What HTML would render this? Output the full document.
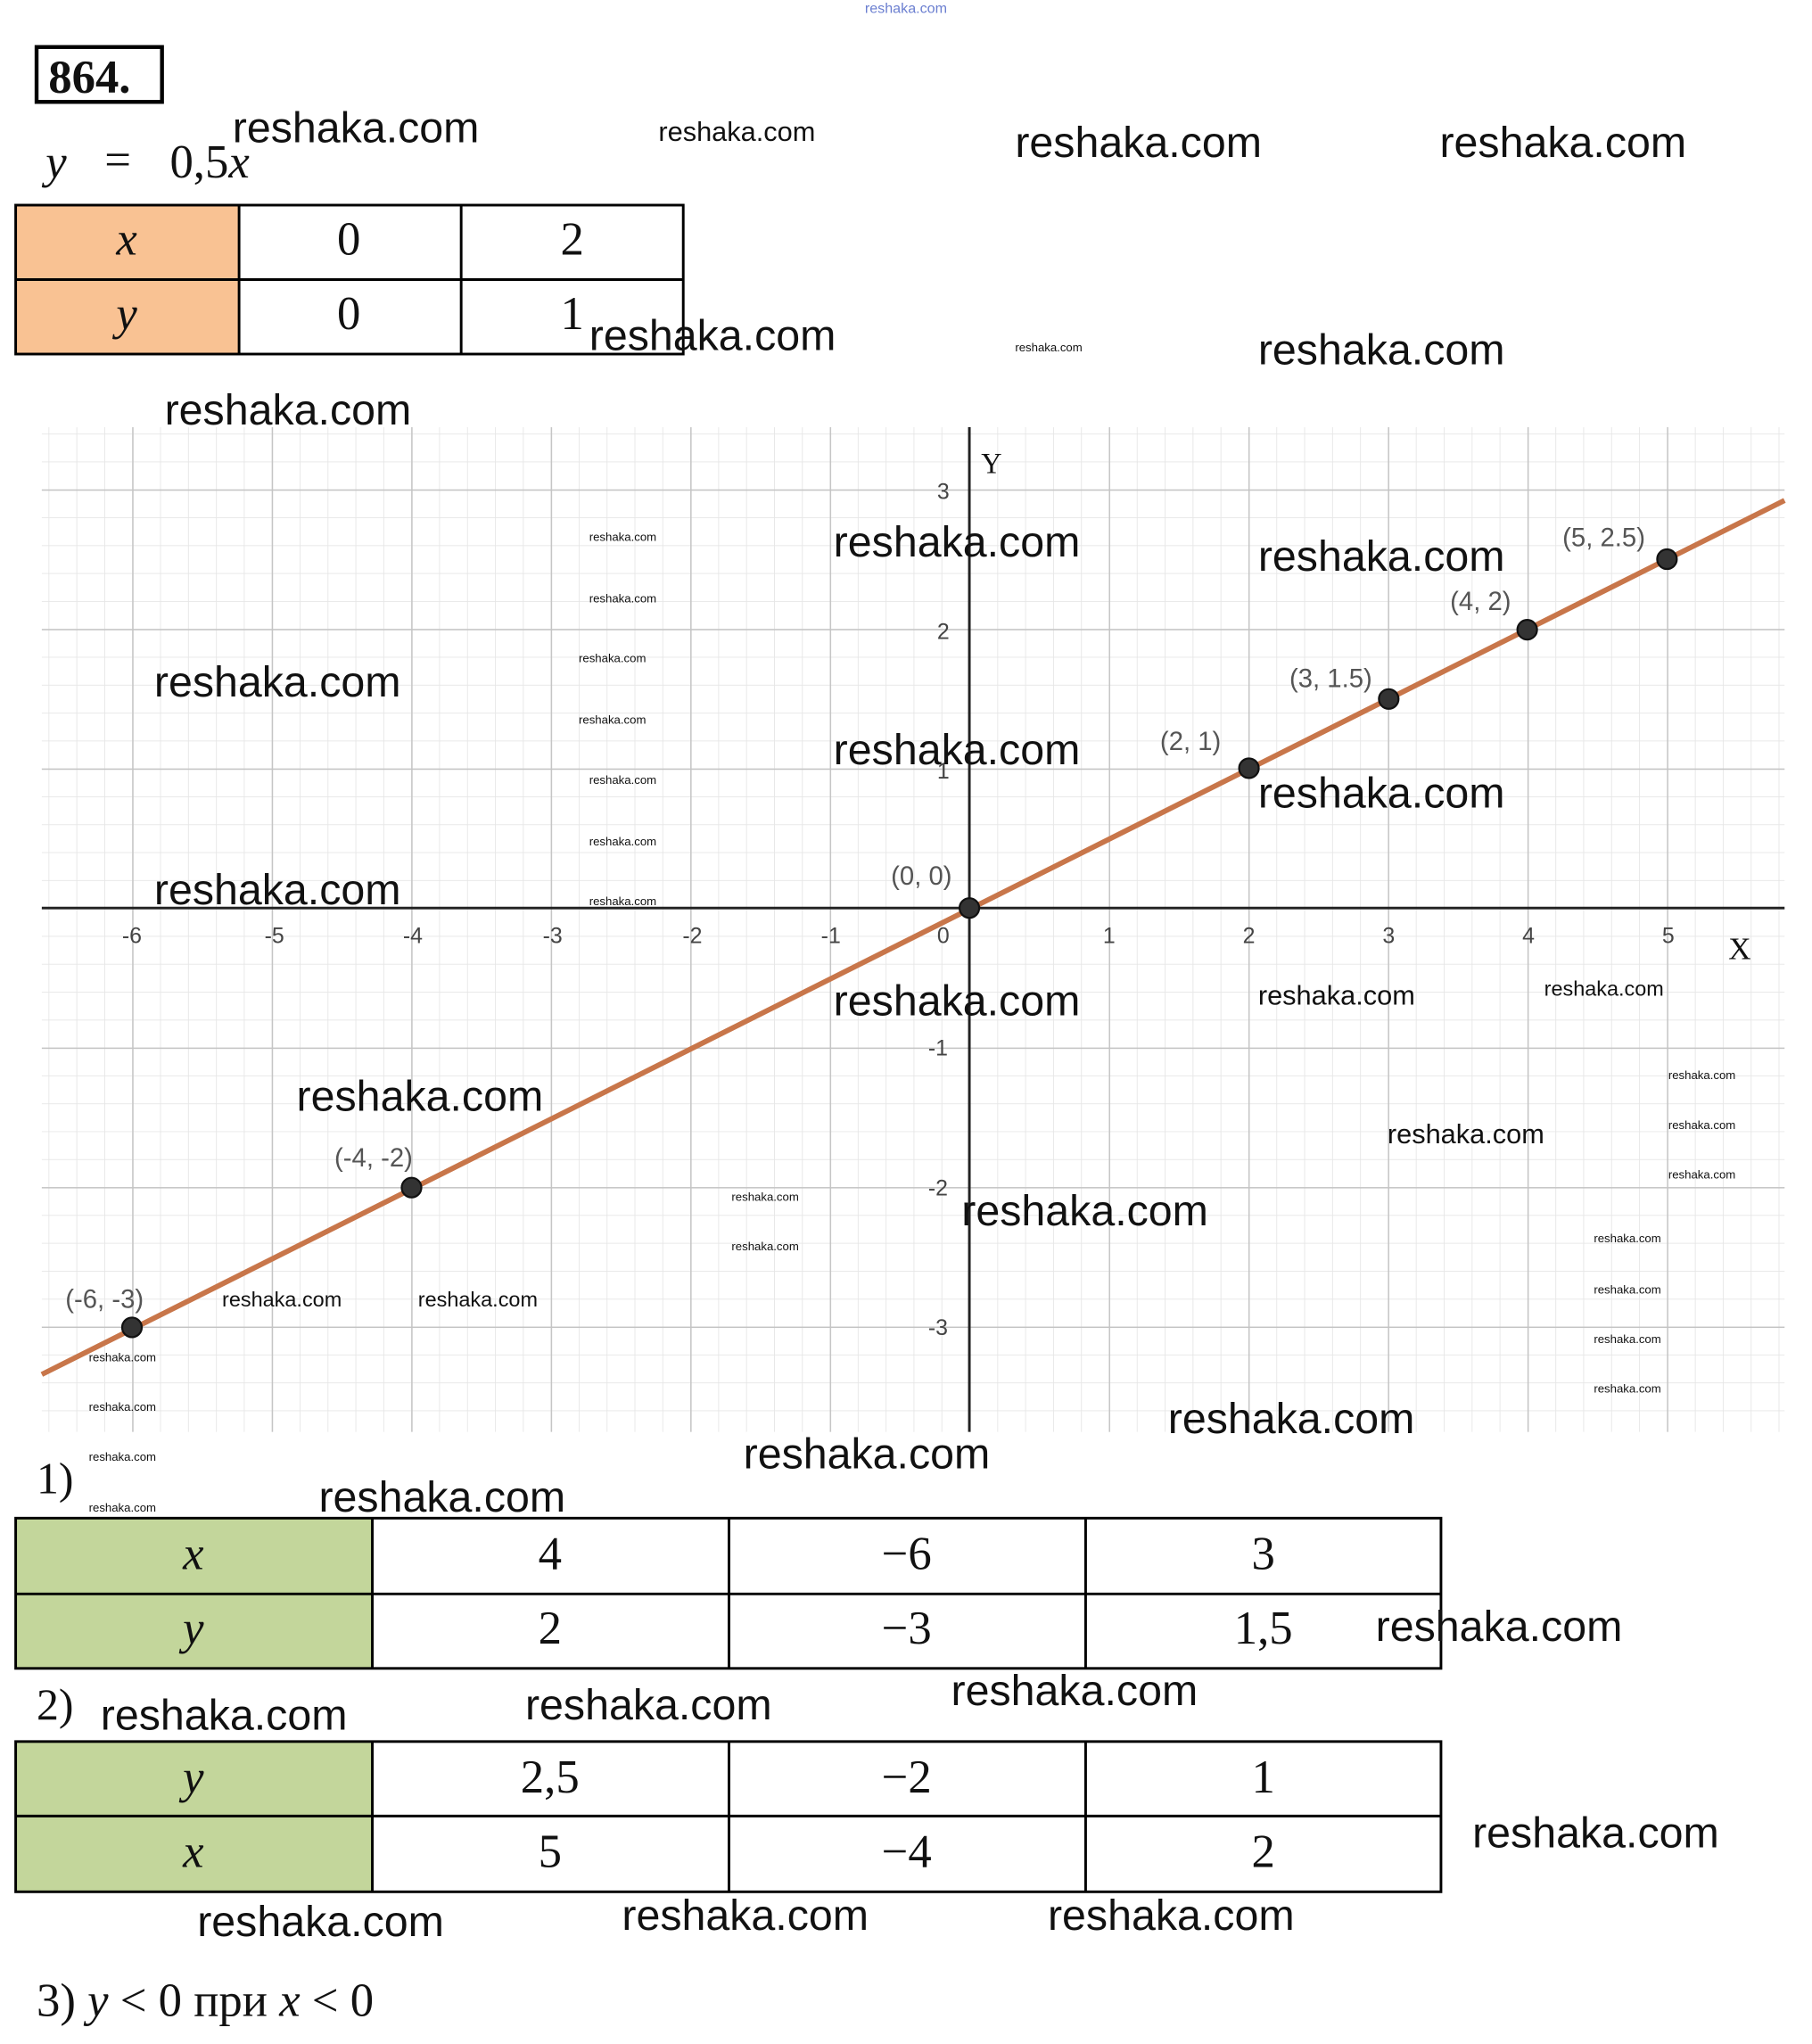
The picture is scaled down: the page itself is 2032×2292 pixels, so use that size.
<!DOCTYPE html>
<html><head><meta charset="utf-8"><style>
html,body{margin:0;padding:0;background:#fff;}
svg{display:block;}
.wm{font-family:"Liberation Sans",sans-serif;fill:#111;}
.ser{font-family:"Liberation Serif",serif;fill:#111;}
.lbl{font-family:"Liberation Sans",sans-serif;fill:#555;font-size:20px;}
.ax{font-family:"Liberation Sans",sans-serif;fill:#444;font-size:17px;}
</style></head><body>
<svg width="2032" height="2292" viewBox="0 0 1387 1564.5" preserveAspectRatio="none" xmlns="http://www.w3.org/2000/svg">
<defs>
<pattern id="minor" patternUnits="userSpaceOnUse" x="742" y="695" width="21.36" height="21.36">
<path d="M0 0 V21.36 M0 0 H21.36" stroke="#e6e6e6" stroke-width="1.2" fill="none"/>
</pattern>
<pattern id="major" patternUnits="userSpaceOnUse" x="742" y="695" width="106.8" height="106.8">
<path d="M0 0 V106.8 M0 0 H106.8" stroke="#c4c4c4" stroke-width="2" fill="none"/>
</pattern>
</defs>
<rect width="1387" height="1565" fill="#fff"/>
<text x="662" y="10" font-size="11" fill="#6b7fd0" font-family="Liberation Sans,sans-serif">reshaka.com</text>
<rect x="28" y="36" width="96" height="42" fill="none" stroke="#000" stroke-width="3"/>
<text x="37" y="71" class="ser" font-size="36" font-weight="bold">864.</text>
<text x="35" y="136" class="ser" font-size="36" font-style="italic">y</text>
<text x="80" y="134" class="ser" font-size="36">=</text>
<text x="130" y="136" class="ser" font-size="36">0,5<tspan font-style="italic">x</tspan></text>
<rect x="12" y="157" width="171" height="114" fill="#f9c293"/>
<g stroke="#000" stroke-width="2" fill="none">
<rect x="12" y="157" width="511" height="114"/>
<line x1="12" y1="214" x2="523" y2="214"/><line x1="183" y1="157" x2="183" y2="271"/><line x1="353" y1="157" x2="353" y2="271"/>
</g>
<g class="ser" font-size="36" text-anchor="middle">
<text x="97" y="195" font-style="italic">x</text><text x="267" y="195">0</text><text x="438" y="195">2</text>
<text x="97" y="252" font-style="italic">y</text><text x="267" y="252">0</text><text x="438" y="252">1</text>
</g>
<rect x="32" y="327" width="1334" height="769" fill="url(#minor)"/>
<rect x="32" y="327" width="1334" height="769" fill="url(#major)"/>
<line x1="742" y1="327" x2="742" y2="1096" stroke="#222" stroke-width="2"/>
<line x1="32" y1="695" x2="1366" y2="695" stroke="#222" stroke-width="2"/>
<g class="ax" text-anchor="middle">
<text x="101" y="722">-6</text><text x="210" y="722">-5</text><text x="316" y="722">-4</text><text x="423" y="722">-3</text><text x="530" y="722">-2</text><text x="636" y="722">-1</text><text x="722" y="722">0</text>
<text x="849" y="722">1</text><text x="956" y="722">2</text><text x="1063" y="722">3</text><text x="1170" y="722">4</text><text x="1277" y="722">5</text>
<text x="722" y="382">3</text><text x="722" y="489">2</text><text x="722" y="596">1</text><text x="718" y="808">-1</text><text x="718" y="915">-2</text><text x="718" y="1022">-3</text>
</g>
<text x="751" y="362" class="ser" font-size="22" fill="#444">Y</text>
<text x="1323" y="734" class="ser" font-size="24" fill="#444">X</text>
<line x1="32" y1="1052" x2="1366" y2="383" stroke="#c8764a" stroke-width="4"/>
<g fill="#333" stroke="#111" stroke-width="1.5">
<circle cx="101" cy="1016" r="7.5"/><circle cx="315" cy="909" r="7.5"/><circle cx="742" cy="695" r="7.5"/><circle cx="956" cy="588" r="7.5"/><circle cx="1063" cy="535" r="7.5"/><circle cx="1169" cy="482" r="7.5"/><circle cx="1276" cy="428" r="7.5"/>
</g>
<g class="lbl">
<text x="50" y="1001">(-6, -3)</text><text x="256" y="893">(-4, -2)</text><text x="682" y="677">(0, 0)</text><text x="888" y="574">(2, 1)</text><text x="987" y="526">(3, 1.5)</text><text x="1110" y="467">(4, 2)</text><text x="1196" y="418">(5, 2.5)</text>
</g>
<text x="28" y="1143" class="ser" font-size="34">1)</text>
<rect x="12" y="1162" width="273" height="115" fill="#c3d69b"/>
<g stroke="#000" stroke-width="2" fill="none">
<rect x="12" y="1162" width="1091" height="115"/><line x1="12" y1="1220" x2="1103" y2="1220"/>
<line x1="285" y1="1162" x2="285" y2="1277"/><line x1="558" y1="1162" x2="558" y2="1277"/><line x1="831" y1="1162" x2="831" y2="1277"/>
</g>
<g class="ser" font-size="36" text-anchor="middle">
<text x="148" y="1201" font-style="italic">x</text><text x="421" y="1201">4</text><text x="694" y="1201">−6</text><text x="967" y="1201">3</text>
<text x="148" y="1258" font-style="italic">y</text><text x="421" y="1258">2</text><text x="694" y="1258">−3</text><text x="967" y="1258">1,5</text>
</g>
<text x="28" y="1316" class="ser" font-size="34">2)</text>
<rect x="12" y="1333" width="273" height="115" fill="#c3d69b"/>
<g stroke="#000" stroke-width="2" fill="none">
<rect x="12" y="1333" width="1091" height="115"/><line x1="12" y1="1390" x2="1103" y2="1390"/>
<line x1="285" y1="1333" x2="285" y2="1448"/><line x1="558" y1="1333" x2="558" y2="1448"/><line x1="831" y1="1333" x2="831" y2="1448"/>
</g>
<g class="ser" font-size="36" text-anchor="middle">
<text x="148" y="1372" font-style="italic">y</text><text x="421" y="1372">2,5</text><text x="694" y="1372">−2</text><text x="967" y="1372">1</text>
<text x="148" y="1429" font-style="italic">x</text><text x="421" y="1429">5</text><text x="694" y="1429">−4</text><text x="967" y="1429">2</text>
</g>
<text x="28" y="1543" class="ser" font-size="36">3) <tspan font-style="italic">y</tspan> &lt; 0 при <tspan font-style="italic">x</tspan> &lt; 0</text>
<g class="wm" font-size="33">
<text x="178" y="109">reshaka.com</text><text x="777" y="120">reshaka.com</text><text x="1102" y="120">reshaka.com</text>
<text x="451" y="268">reshaka.com</text><text x="963" y="279">reshaka.com</text><text x="126" y="325">reshaka.com</text>
<text x="638" y="426">reshaka.com</text><text x="963" y="437">reshaka.com</text><text x="118" y="533">reshaka.com</text>
<text x="638" y="585">reshaka.com</text><text x="963" y="618">reshaka.com</text><text x="118" y="692">reshaka.com</text>
<text x="638" y="777">reshaka.com</text><text x="227" y="850">reshaka.com</text><text x="736" y="938">reshaka.com</text>
<text x="894" y="1097">reshaka.com</text><text x="569" y="1124">reshaka.com</text><text x="244" y="1157">reshaka.com</text>
<text x="1053" y="1256">reshaka.com</text><text x="77" y="1324">reshaka.com</text><text x="402" y="1316">reshaka.com</text>
<text x="728" y="1305">reshaka.com</text><text x="1127" y="1414">reshaka.com</text><text x="151" y="1482">reshaka.com</text>
<text x="476" y="1477">reshaka.com</text><text x="802" y="1477">reshaka.com</text>
</g>
<g class="wm" font-size="21">
<text x="504" y="108">reshaka.com</text><text x="963" y="769">reshaka.com</text><text x="1062" y="875">reshaka.com</text>
</g>
<g class="wm" font-size="16">
<text x="170" y="1000">reshaka.com</text><text x="320" y="1000">reshaka.com</text><text x="1182" y="762">reshaka.com</text>
</g>
<g class="wm" font-size="9">
<text x="777" y="269">reshaka.com</text>
<text x="451" y="414">reshaka.com</text><text x="451" y="461">reshaka.com</text><text x="443" y="507">reshaka.com</text><text x="443" y="554">reshaka.com</text>
<text x="451" y="600">reshaka.com</text><text x="451" y="647">reshaka.com</text><text x="451" y="693">reshaka.com</text>
<text x="1277" y="826">reshaka.com</text><text x="1277" y="864">reshaka.com</text><text x="1277" y="902">reshaka.com</text>
<text x="560" y="919">reshaka.com</text><text x="560" y="957">reshaka.com</text>
<text x="1220" y="951">reshaka.com</text><text x="1220" y="990">reshaka.com</text><text x="1220" y="1028">reshaka.com</text><text x="1220" y="1066">reshaka.com</text>
<text x="68" y="1042">reshaka.com</text><text x="68" y="1080">reshaka.com</text><text x="68" y="1118">reshaka.com</text><text x="68" y="1157">reshaka.com</text>
</g>
</svg>
</body></html>
